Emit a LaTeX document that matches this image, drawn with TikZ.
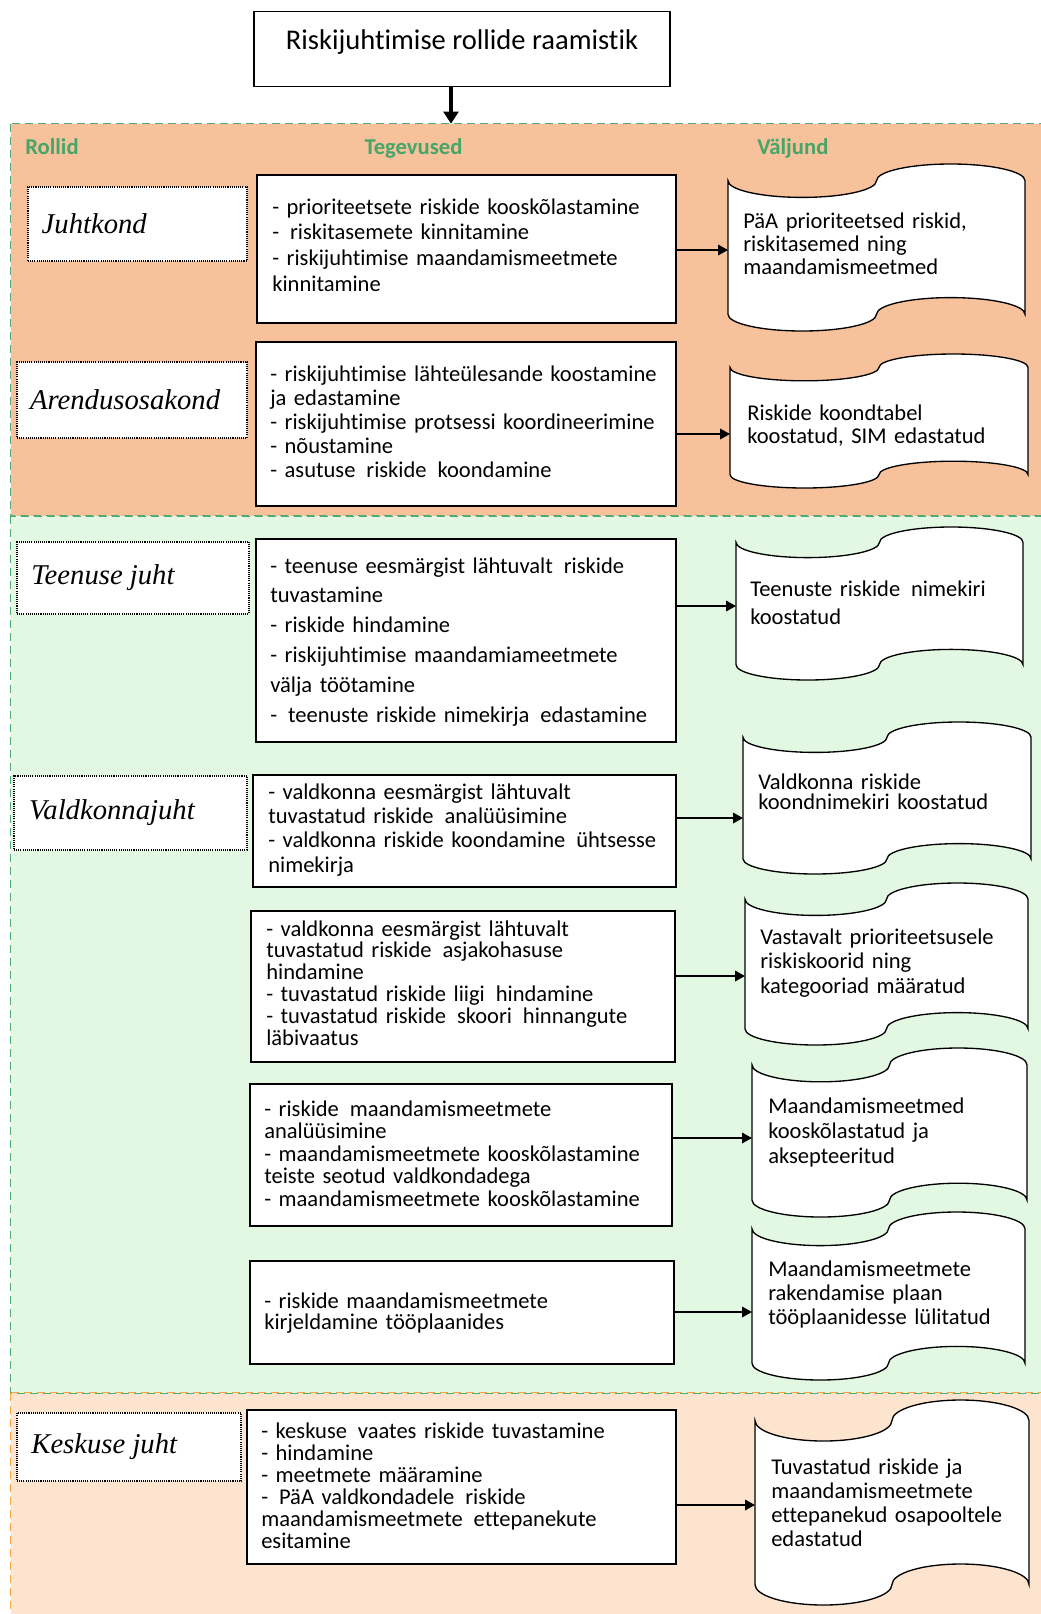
\documentclass[tikz,border=0pt]{standalone}
\usepackage{fontspec}
\setmainfont{Carlito}[RawFeature={-liga;-clig;-dlig}]
\newfontfamily\rolefont{Liberation Serif}
\usetikzlibrary{arrows.meta,fit}
\definecolor{secA}{RGB}{247,194,155}
\definecolor{secB}{RGB}{226,248,226}
\definecolor{secC}{RGB}{253,228,206}
\definecolor{gborder}{RGB}{80,170,115}
\definecolor{oborder}{RGB}{245,165,60}
\definecolor{headgreen}{RGB}{70,165,105}
\newcommand\dsp{\hspace{0.15em}\ }
\newcommand\tapepath[4]{%
  \pgfmathsetmacro\tw{#3-#1}%
  \pgfmathsetmacro\th{#4-#2}%
  \pgfmathsetmacro\ta{0.1*\th}%
  \pgfmathsetmacro\qx{\tw/4*0.5523}%
  \pgfmathsetmacro\qy{\ta*0.5523}%
  \draw[tapestyle] (#1,#2+\ta)
    .. controls (#1,#2+\ta+\qy) and (#1+\tw/4-\qx,#2+2*\ta) .. (#1+\tw/4,#2+2*\ta)
    .. controls (#1+\tw/4+\qx,#2+2*\ta) and (#1+\tw/2,#2+\ta+\qy) .. (#1+\tw/2,#2+\ta)
    .. controls (#1+\tw/2,#2+\ta-\qy) and (#1+3*\tw/4-\qx,#2) .. (#1+3*\tw/4,#2)
    .. controls (#1+3*\tw/4+\qx,#2) and (#3,#2+\ta-\qy) .. (#3,#2+\ta)
    -- (#3,#4-\ta)
    .. controls (#3,#4-\ta-\qy) and (#1+3*\tw/4+\qx,#4-2*\ta) .. (#1+3*\tw/4,#4-2*\ta)
    .. controls (#1+3*\tw/4-\qx,#4-2*\ta) and (#1+\tw/2,#4-\ta-\qy) .. (#1+\tw/2,#4-\ta)
    .. controls (#1+\tw/2,#4-\ta+\qy) and (#1+\tw/4+\qx,#4) .. (#1+\tw/4,#4)
    .. controls (#1+\tw/4-\qx,#4) and (#1,#4-\ta+\qy) .. (#1,#4-\ta)
    -- cycle;
}
\begin{document}
\begin{tikzpicture}[x=0.75pt,y=-0.75pt,
  secfill/.style={inner sep=0, draw=none},
  gdash/.style={draw=gborder, line width=1.1pt, dash pattern=on 6pt off 3.75pt},
  odash/.style={draw=oborder, line width=1.1pt, dash pattern=on 6pt off 3.75pt},
  actbox/.style={draw=black, line width=1.1pt, fill=white, inner sep=0},
  rolebox/.style={draw=black, line width=0.8pt, dash pattern=on 0.8pt off 0.8pt, fill=white, inner sep=0},
  roletxt/.style={anchor=west, inner sep=0, font=\rolefont\itshape\fontsize{21.5pt}{25pt}\selectfont},
  acttxt/.style={anchor=base west, inner sep=0, text width=330pt, align=left,
     font={\fontsize{16.9pt}{#1}\selectfont\lineskiplimit=-100pt\relax}},
  tapestyle/.style={draw=black, line width=1pt, fill=white},
  tapebox/.style={inner sep=0, draw=none},
  headtxt/.style={inner sep=0, text=headgreen, font=\bfseries\fontsize{17pt}{20pt}\selectfont},
  arr/.style={-{Triangle[length=7.5pt,width=8pt]}, line width=1pt},
  bigarr/.style={-{Triangle[length=9pt,width=11pt]}, line width=2.4pt}
]
\useasboundingbox (0,0) rectangle (1041,1614);
\fill[white] (0,0) rectangle (1041,1614);

% sections
\node[secfill, fill=secA, fit={(11,124) (1046,516)}] (s1) {};
\node[secfill, fill=secB, fit={(11,516) (1046,1393)}] (s2) {};
\node[secfill, fill=secC, fit={(11,1393) (1046,1622)}] (s3) {};
\draw[gdash] (s1.north west) rectangle (s1.south east);
\draw[gdash] (s2.north west) rectangle (s2.south east);
\draw[odash] (s3.north west) rectangle (s3.south east);

% title
\node[draw=black, line width=1.1pt, fill=white, anchor=north, minimum width=312pt,
  inner sep=0, text height=28.5pt, text depth=27.75pt,
  font=\fontsize{21.4pt}{25pt}\selectfont] (title) at (462,11) {Riskijuhtimise rollide raamistik};
\coordinate (tstart) at ([xshift=-8.25pt]title.south);
\draw[bigarr] (tstart) -- (tstart |- s1.north);

% headers
\node[headtxt, anchor=base west] (h1) at (25,154) {Rollid};
\node[headtxt, anchor=base] (h2) at (413.5,154) {Tegevused};
\node[headtxt, anchor=base west] (h3) at (757,154) {Väljund};

% roles
\node[rolebox, fit={(28,187) (247,261)}] (r1) {};
\node[roletxt] (r1t) at ([xshift=10.5pt]r1.west) {Juhtkond};
\node[rolebox, fit={(17,362) (247,438)}] (r2) {};
\node[roletxt] (r2t) at ([xshift=10pt]r2.west) {Arendusosakond};
\node[rolebox, fit={(17,542) (249,614)}] (r3) {};
\node[roletxt] (r3t) at ([xshift=11pt]r3.west) {Teenuse juht};
\node[rolebox, fit={(14,776) (247,850)}] (r4) {};
\node[roletxt] (r4t) at ([xshift=11.5pt]r4.west) {Valdkonnajuht};
\node[rolebox, fit={(17,1413) (241,1481)}] (r5) {};
\node[roletxt] (r5t) at ([xshift=11pt]r5.west) {Keskuse juht};

% activity boxes
\node[actbox, fit={(257,175) (676,323)}] (b1) {};
\node[acttxt=19.25pt] (b1t) at (272,214) {- prioriteetsete riskide kooskõlastamine\\-\dsp riskitasemete kinnitamine\\- riskijuhtimise maandamismeetmete\\kinnitamine};
\node[actbox, fit={(256,342) (676,506)}] (b2) {};
\node[acttxt=18pt] (b2t) at (270,381) {- riskijuhtimise lähteülesande koostamine\\ja edastamine\\- riskijuhtimise protsessi koordineerimine\\- nõustamine\\- asutuse\dsp riskide\dsp koondamine};
\node[actbox, fit={(256,539) (676,742)}] (b3) {};
\node[acttxt=22.35pt] (b3t) at (270,573) {- teenuse eesmärgist lähtuvalt\dsp riskide\\tuvastamine\\- riskide hindamine\\- riskijuhtimise maandamiameetmete\\välja töötamine\\-\dsp teenuste riskide nimekirja\dsp edastamine};
\node[actbox, fit={(253,775) (676,887)}] (b4) {};
\node[acttxt=18.25pt] (b4t) at (268,799) {- valdkonna eesmärgist lähtuvalt\\tuvastatud riskide\dsp analüüsimine\\- valdkonna riskide koondamine\dsp ühtsesse\\nimekirja};
\node[actbox, fit={(251,911) (675,1062)}] (b5) {};
\node[acttxt=16.35pt] (b5t) at (266,936) {- valdkonna eesmärgist lähtuvalt\\tuvastatud riskide\dsp asjakohasuse\\hindamine\\- tuvastatud riskide liigi\dsp hindamine\\- tuvastatud riskide\dsp skoori\dsp hinnangute\\läbivaatus};
\node[actbox, fit={(250,1084) (672,1226)}] (b6) {};
\node[acttxt=16.9pt] (b6t) at (264,1116) {- riskide\dsp maandamismeetmete\\analüüsimine\\- maandamismeetmete kooskõlastamine\\teiste seotud valdkondadega\\- maandamismeetmete kooskõlastamine};
\node[actbox, fit={(250,1261) (674,1364)}] (b7) {};
\node[acttxt=15.75pt] (b7t) at (264,1308) {- riskide maandamismeetmete\\kirjeldamine tööplaanides};
\node[actbox, fit={(247,1410) (676,1564)}] (b8) {};
\node[acttxt=16.5pt] (b8t) at (261,1438) {- keskuse\dsp vaates riskide tuvastamine\\- hindamine\\- meetmete määramine\\-\dsp PäA valdkondadele\dsp riskide\\maandamismeetmete\dsp ettepanekute\\esitamine};

% output tapes
\tapepath{728}{164}{1025}{331}
\node[tapebox, fit={(728,164) (1025,331)}] (d1) {};
\node[acttxt=17.6pt] (d1t) at (743,228) {PäA prioriteetsed riskid,\\riskitasemed ning\\maandamismeetmed};
\tapepath{730}{354}{1028}{488}
\node[tapebox, fit={(730,354) (1028,488)}] (d2) {};
\node[acttxt=17.25pt] (d2t) at (747,420) {Riskide koondtabel\\koostatud, SIM edastatud};
\tapepath{736}{527}{1023}{680}
\node[tapebox, fit={(736,527) (1023,680)}] (d3) {};
\node[acttxt=21pt] (d3t) at (750,596) {Teenuste riskide\dsp nimekiri\\koostatud};
\tapepath{743}{722}{1031}{874}
\node[tapebox, fit={(743,722) (1031,874)}] (d4) {};
\node[acttxt=15pt] (d4t) at (758,789) {Valdkonna riskide\\koondnimekiri koostatud};
\tapepath{745}{883}{1028}{1045}
\node[tapebox, fit={(745,883) (1028,1045)}] (d5) {};
\node[acttxt=18.4pt] (d5t) at (760,944) {Vastavalt prioriteetsusele\\riskiskoorid ning\\kategooriad määratud};
\tapepath{752}{1048}{1027}{1217}
\node[tapebox, fit={(752,1048) (1027,1217)}] (d6) {};
\node[acttxt=18.75pt] (d6t) at (768,1113) {Maandamismeetmed\\kooskõlastatud ja\\aksepteeritud};
\tapepath{752}{1212}{1025}{1380}
\node[tapebox, fit={(752,1212) (1025,1380)}] (d7) {};
\node[acttxt=18pt] (d7t) at (768,1276) {Maandamismeetmete\\rakendamise plaan\\tööplaanidesse lülitatud};
\tapepath{755}{1400}{1029}{1605}
\node[tapebox, fit={(755,1400) (1029,1605)}] (d8) {};
\node[acttxt=18pt] (d8t) at (771,1474) {Tuvastatud riskide ja\\maandamismeetmete\\ettepanekud osapooltele\\edastatud};

% arrow targets
\coordinate (a1) at (728,250);
\coordinate (a2) at (730,434);
\coordinate (a3) at (736,606);
\coordinate (a4) at (743,818);
\coordinate (a5) at (745,976);
\coordinate (a6) at (752,1138);
\coordinate (a7) at (752,1312);
\coordinate (a8) at (755,1505);
\draw[arr] (b1.east |- a1) -- (a1);
\draw[arr] (b2.east |- a2) -- (a2);
\draw[arr] (b3.east |- a3) -- (a3);
\draw[arr] (b4.east |- a4) -- (a4);
\draw[arr] (b5.east |- a5) -- (a5);
\draw[arr] (b6.east |- a6) -- (a6);
\draw[arr] (b7.east |- a7) -- (a7);
\draw[arr] (b8.east |- a8) -- (a8);
\end{tikzpicture}
\end{document}
